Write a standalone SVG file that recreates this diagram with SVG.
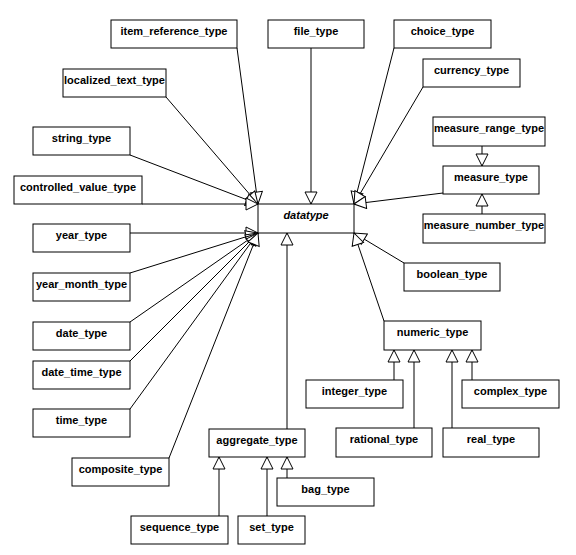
<svg xmlns="http://www.w3.org/2000/svg" width="576" height="555" viewBox="0 0 576 555">
<defs>
<marker id="tri" markerUnits="userSpaceOnUse" markerWidth="14" markerHeight="14" viewBox="-1 -1 14 14" refX="12" refY="6" orient="auto">
<path d="M0,0 L12,6 L0,12 z" fill="#fff" stroke="#000" stroke-width="1"/>
</marker>
<style>
.n rect{fill:#fff;stroke:#000;stroke-width:1}
.n text{font-family:"Liberation Sans",Arial,sans-serif;font-size:11px;font-weight:bold;text-anchor:middle;fill:#000}
#datatype text{font-style:italic}
#connectors line{stroke:#000;stroke-width:1;marker-end:url(#tri)}
</style>
</defs>
<rect width="576" height="555" fill="#fff"/>
<g id="connectors">
<line x1="237" y1="48" x2="258" y2="204"/>
<line x1="166" y1="97" x2="258" y2="204"/>
<line x1="130" y1="155" x2="258" y2="204"/>
<line x1="142" y1="204" x2="258" y2="204"/>
<line x1="130" y1="233" x2="258" y2="233"/>
<line x1="130" y1="273" x2="258" y2="233"/>
<line x1="130" y1="322" x2="258" y2="233"/>
<line x1="130" y1="361" x2="258" y2="233"/>
<line x1="130" y1="409" x2="258" y2="233"/>
<line x1="169" y1="458" x2="258" y2="233"/>
<line x1="311" y1="48" x2="311" y2="204"/>
<line x1="394" y1="48" x2="354" y2="204"/>
<line x1="423" y1="87" x2="354" y2="204"/>
<line x1="443" y1="193" x2="354" y2="204"/>
<line x1="404" y1="263" x2="354" y2="233"/>
<line x1="384" y1="321" x2="354" y2="233"/>
<line x1="287" y1="429" x2="287" y2="233"/>
<line x1="482" y1="146" x2="482" y2="166"/>
<line x1="482" y1="214" x2="482" y2="194"/>
<line x1="394" y1="380" x2="394" y2="350"/>
<line x1="414" y1="428" x2="414" y2="350"/>
<line x1="452" y1="428" x2="452" y2="350"/>
<line x1="472" y1="380" x2="472" y2="350"/>
<line x1="219" y1="516" x2="219" y2="457"/>
<line x1="267" y1="516" x2="267" y2="457"/>
<line x1="287" y1="478" x2="287" y2="457"/>
</g>
<g id="item_reference_type" class="n"><rect x="111" y="20" width="126" height="28"/><text x="174" y="35">item_reference_type</text></g>
<g id="file_type" class="n"><rect x="268" y="20" width="96" height="28"/><text x="316" y="35">file_type</text></g>
<g id="choice_type" class="n"><rect x="394" y="20" width="97" height="28"/><text x="442.5" y="35">choice_type</text></g>
<g id="localized_text_type" class="n"><rect x="63" y="69" width="103" height="28"/><text x="114.5" y="84">localized_text_type</text></g>
<g id="currency_type" class="n"><rect x="423" y="59" width="97" height="28"/><text x="471.5" y="74">currency_type</text></g>
<g id="string_type" class="n"><rect x="33" y="127" width="97" height="28"/><text x="81.5" y="142">string_type</text></g>
<g id="measure_range_type" class="n"><rect x="433" y="117" width="112" height="29"/><text x="489" y="132">measure_range_type</text></g>
<g id="controlled_value_type" class="n"><rect x="14" y="176" width="128" height="28"/><text x="78" y="191">controlled_value_type</text></g>
<g id="measure_type" class="n"><rect x="443" y="166" width="96" height="28"/><text x="491" y="181">measure_type</text></g>
<g id="datatype" class="n"><rect x="258" y="204" width="96" height="29"/><text x="306" y="219">datatype</text></g>
<g id="year_type" class="n"><rect x="33" y="224" width="97" height="28"/><text x="81.5" y="239">year_type</text></g>
<g id="measure_number_type" class="n"><rect x="423" y="214" width="122" height="29"/><text x="484" y="229">measure_number_type</text></g>
<g id="boolean_type" class="n"><rect x="404" y="263" width="96" height="28"/><text x="452" y="278">boolean_type</text></g>
<g id="year_month_type" class="n"><rect x="33" y="273" width="97" height="28"/><text x="81.5" y="288">year_month_type</text></g>
<g id="date_type" class="n"><rect x="33" y="322" width="97" height="28"/><text x="81.5" y="337">date_type</text></g>
<g id="numeric_type" class="n"><rect x="384" y="321" width="97" height="29"/><text x="432.5" y="336">numeric_type</text></g>
<g id="date_time_type" class="n"><rect x="33" y="361" width="97" height="28"/><text x="81.5" y="376">date_time_type</text></g>
<g id="integer_type" class="n"><rect x="306" y="380" width="97" height="28"/><text x="354.5" y="395">integer_type</text></g>
<g id="complex_type" class="n"><rect x="462" y="380" width="97" height="28"/><text x="510.5" y="395">complex_type</text></g>
<g id="time_type" class="n"><rect x="33" y="409" width="97" height="28"/><text x="81.5" y="424">time_type</text></g>
<g id="aggregate_type" class="n"><rect x="209" y="429" width="96" height="28"/><text x="257" y="444">aggregate_type</text></g>
<g id="rational_type" class="n"><rect x="336" y="428" width="96" height="29"/><text x="384" y="443">rational_type</text></g>
<g id="real_type" class="n"><rect x="443" y="428" width="96" height="29"/><text x="491" y="443">real_type</text></g>
<g id="composite_type" class="n"><rect x="72" y="458" width="97" height="28"/><text x="120.5" y="473">composite_type</text></g>
<g id="bag_type" class="n"><rect x="277" y="478" width="97" height="28"/><text x="325.5" y="493">bag_type</text></g>
<g id="sequence_type" class="n"><rect x="131" y="516" width="97" height="28"/><text x="179.5" y="531">sequence_type</text></g>
<g id="set_type" class="n"><rect x="238" y="516" width="67" height="28"/><text x="271.5" y="531">set_type</text></g>
</svg>
